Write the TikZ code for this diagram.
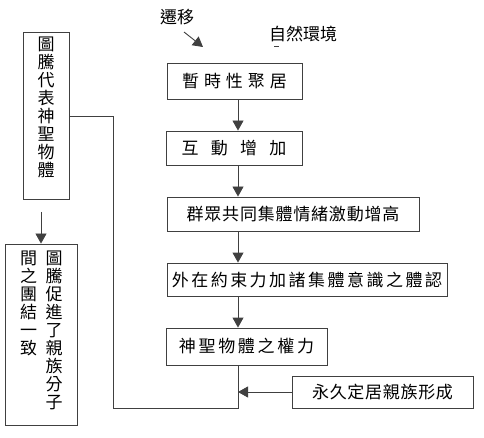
\documentclass[tikz,border=0pt]{standalone}
\usepackage{fontspec}
\newfontfamily\cjk{Noto Sans CJK TC}
\usetikzlibrary{arrows.meta}
\makeatletter
\newcommand\trk[2]{\def\trk@gap{#1}\trk@a#2\relax}
\def\trk@a#1{\ifx#1\relax\else #1\expandafter\trk@b\fi}
\def\trk@b#1{\ifx#1\relax\else\hspace{\trk@gap}#1\expandafter\trk@b\fi}
\makeatother
\tikzset{
  x=1pt, y=-1pt,
  every node/.style={font=\cjk\fontsize{17}{18}\selectfont, text=black},
  box/.style={draw=black!75, line width=0.9pt, inner sep=0pt, align=center},
  conn/.style={draw=black!75, line width=0.9pt},
  arr/.style={conn, -{Triangle[width=11pt,length=10pt]}},
  vtext/.style={align=center, inner sep=0pt, anchor=north}
}
\begin{document}
\begin{tikzpicture}
\useasboundingbox (0,0) rectangle (484,438);
% labels at top
\node (lab1) at (177,17) {遷移};
\node (lab2) at (303,34) {自然環境};
\coordinate (m1) at (184,32);
\coordinate (m2) at (203,47);
\draw[arr] (m1) -- (m2);
\coordinate (d1) at (274,46);
\coordinate (d2) at (279,46);
\draw[conn, line width=0.6pt] (d1) -- (d2);
% main column
\coordinate (mx) at (238,0);
\node[box, minimum width=135pt, minimum height=36pt] (b1) at (234.5,81) {\trk{5pt}{暫時性聚居}};
\node[box, minimum width=136pt, minimum height=34pt] (b2) at (234,148) {\trk{12.3pt}{互動增加}};
\node[box, minimum width=252pt, minimum height=34pt] (b3) at (293,214) {\trk{0.8pt}{群眾共同集體情緒激動增高}};
\node[box, minimum width=280pt, minimum height=33pt] (b4) at (307,279.5) {\trk{2.5pt}{外在約束力加諸集體意識之體認}};
\node[box, minimum width=161pt, minimum height=37pt] (b5) at (246.5,346.5) {\trk{2.7pt}{神聖物體之權力}};
\node[box, minimum width=181pt, minimum height=32pt] (b6) at (382.5,392) {\trk{0.7pt}{永久定居親族形成}};
\draw[arr] (b1.south -| mx) -- (b2.north -| mx);
\draw[arr] (b2.south -| mx) -- (b3.north -| mx);
\draw[arr] (b3.south -| mx) -- (b4.north -| mx);
\draw[arr] (b4.south -| mx) -- (b5.north -| mx);
\draw[arr] (b6.west) -- (b6.west -| mx);
% left column
\node[box, minimum width=46pt, minimum height=167pt] (t1) at (46,115.5) {};
\node[vtext] (t1txt) at (46,37) {圖\\騰\\代\\表\\神\\聖\\物\\體};
\node[box, minimum width=72pt, minimum height=181pt] (t2) at (41,334.5) {};
\node[vtext] (t2a) at (54,251) {圖\\騰\\促\\進\\了\\親\\族\\分\\子};
\node[vtext] (t2b) at (28.5,251) {間\\之\\團\\結\\一\\致};
\coordinate (la) at (41,212);
\draw[arr] (la) -- (la |- t2.north);
% loop back
\coordinate (br) at (238,408);
\coordinate (bl) at (113,408);
\coordinate (lt) at (113,116);
\draw[conn] (b5.south -| mx) -- (br) -- (bl) -- (lt) -- (lt -| t1.east);
\end{tikzpicture}
\end{document}
